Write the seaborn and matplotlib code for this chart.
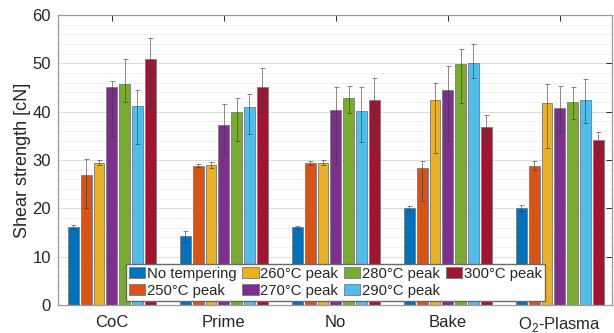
import numpy as np
import pandas as pd
import matplotlib
matplotlib.use("Agg")
import matplotlib.pyplot as plt
import seaborn as sns

# data
categories = ["CoC", "Prime", "No", "Bake", "O$_\\mathregular{2}$-Plasma"]
series = ["No tempering", "250°C peak", "260°C peak", "270°C peak",
          "280°C peak", "290°C peak", "300°C peak"]

no_tempering = [16.2, 14.3, 16.1, 20.0, 20.1]
peak_250 = [27.0, 28.8, 29.3, 28.4, 28.8]
peak_260 = [29.4, 29.0, 29.4, 42.4, 41.7]
peak_270 = [45.2, 37.3, 40.4, 44.5, 40.8]
peak_280 = [45.7, 39.9, 42.9, 49.8, 42.0]
peak_290 = [41.2, 41.0, 40.1, 50.0, 42.4]
peak_300 = [50.9, 45.0, 42.4, 36.8, 34.1]

# error bar extents (lower, upper)
low_no = [15.8, 13.1, 15.8, 19.6, 19.5]
high_no = [16.6, 15.3, 16.4, 20.4, 20.7]
low_250 = [20.0, 28.5, 28.9, 21.6, 28.0]
high_250 = [30.3, 29.1, 29.7, 29.7, 29.7]
low_260 = [28.9, 28.4, 28.9, 31.4, 32.4]
high_260 = [30.0, 29.6, 29.9, 45.9, 45.7]
low_270 = [35.0, 31.0, 29.1, 33.9, 35.7]
high_270 = [46.3, 41.5, 45.2, 49.4, 45.4]
low_280 = [41.9, 34.0, 39.8, 41.7, 38.4]
high_280 = [50.8, 42.9, 45.4, 53.0, 45.0]
low_290 = [33.3, 35.4, 33.8, 46.9, 37.6]
high_290 = [44.4, 43.6, 45.2, 53.9, 46.7]
low_300 = [41.0, 39.9, 33.3, 34.3, 31.7]
high_300 = [55.2, 49.0, 46.9, 39.4, 35.7]

values = [no_tempering, peak_250, peak_260, peak_270, peak_280, peak_290, peak_300]
lows = [low_no, low_250, low_260, low_270, low_280, low_290, low_300]
highs = [high_no, high_250, high_260, high_270, high_280, high_290, high_300]

colors = ["#0072BD", "#D95319", "#EDB120", "#7E2F8E", "#77AC30", "#4DBEEE", "#A2142F"]

rows = []
for s, vals in zip(series, values):
    for c, v in zip(categories, vals):
        rows.append({"category": c, "series": s, "value": v})
df = pd.DataFrame(rows)

sns.set_style("white")
plt.rcParams["font.family"] = ["Liberation Sans", "DejaVu Sans"]
plt.rcParams["mathtext.fontset"] = "custom"
plt.rcParams["mathtext.rm"] = "Liberation Sans"

fig = plt.figure(figsize=(6.14, 3.33), dpi=100)
ax = fig.add_axes([0.0945, 0.084, 0.903, 0.871])

sns.barplot(data=df, x="category", y="value", hue="series", order=categories,
            hue_order=series, palette=colors, width=0.8, gap=0.15,
            errorbar=None, saturation=1, edgecolor="#7a7a7a", linewidth=0.6,
            ax=ax, zorder=2)

# error bars on each bar
for cont, vals, lo, hi in zip(ax.containers, values, lows, highs):
    xs = [p.get_x() + p.get_width() / 2 for p in cont.patches]
    v = np.array(vals)
    yerr = [v - np.array(lo), np.array(hi) - v]
    ax.errorbar(xs, v, yerr=yerr, fmt="none", ecolor="#3a3a3a", elinewidth=0.7,
                capsize=1.8, capthick=0.7, alpha=0.6, zorder=3)

ax.set_ylim(0, 60)
ax.set_xlim(-0.48, 4.47)
ax.set_yticks(np.arange(0, 61, 10))
ax.set_yticks(np.arange(0, 61, 2), minor=True)
ax.yaxis.grid(True, which="major", color="#dcdcdc", linewidth=0.7, zorder=0)
ax.yaxis.grid(True, which="minor", color="#efefef", linewidth=0.6, zorder=0)
ax.set_axisbelow(True)

ax.set_xlabel("")
ax.set_ylabel("Shear strength [cN]", fontsize=13, color="#262626", labelpad=1)
ax.tick_params(axis="both", labelsize=12, colors="#262626", direction="in",
               top=True, right=True, length=4, width=0.7)
ax.tick_params(axis="x", pad=7)
ax.tick_params(axis="y", pad=5)
ax.tick_params(axis="y", which="minor", length=0)
for sp in ax.spines.values():
    sp.set_visible(True)
    sp.set_color("#9a9a9a")
    sp.set_linewidth(0.9)

handles, labels = ax.get_legend_handles_labels()
ax.legend(handles, labels, ncol=4, loc="lower center", bbox_to_anchor=(0.5, 0.0),
          fontsize=10.7, frameon=True, fancybox=False, edgecolor="#6a6a6a",
          handlelength=1.1, handleheight=0.7, handletextpad=0.1, columnspacing=0.4,
          labelspacing=0.2, borderpad=0.2, borderaxespad=0.3, framealpha=1)

fig.savefig("out.png", dpi=100)
